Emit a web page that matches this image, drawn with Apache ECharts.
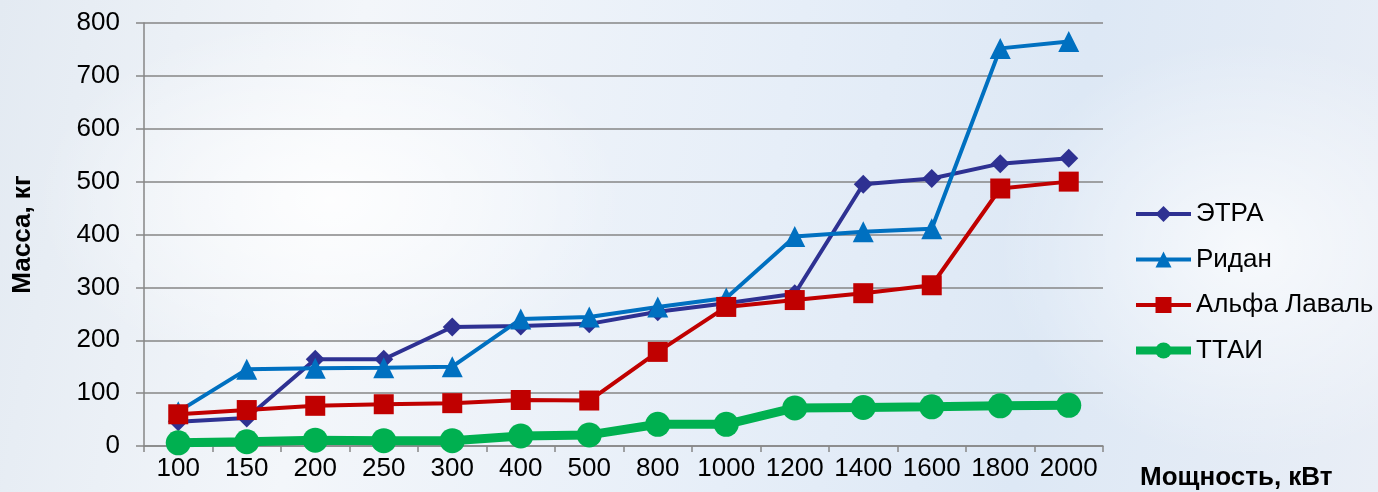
<!DOCTYPE html>
<html>
<head>
<meta charset="utf-8">
<script src="https://cdn.jsdelivr.net/npm/echarts@6/dist/echarts.min.js"></script>
<style>
    html, body { margin: 0; padding: 0; }
    #chart {
        width: 1378px; height: 492px;
        background:
            radial-gradient(ellipse 420px 260px at 330px 200px, rgba(255,255,255,0.85), rgba(255,255,255,0) 70%),
            radial-gradient(ellipse 360px 300px at 1250px 250px, rgba(255,255,255,0.7), rgba(255,255,255,0) 70%),
            linear-gradient(100deg, #e3eaf2 0%, #f3f6fa 25%, #e6eef8 55%, #dde8f5 75%, #e9eef6 100%);
    }
</style>
</head>
<body>
<div id="chart"></div>
<script>
var powers = ['100', '150', '200', '250', '300', '400', '500', '800', '1000', '1200', '1400', '1600', '1800', '2000'];
var etra = [46, 53, 164, 164, 225, 227, 231, 254, 270, 288, 495, 506, 534, 544];
var ridan = [65, 145, 147, 148, 150, 240, 244, 263, 280, 396, 405, 411, 752, 765];
var alfaLaval = [60, 68, 76, 79, 81, 87, 86, 178, 263, 276, 289, 304, 487, 500];
var ttai = [6, 8, 11, 10, 10, 19, 21, 41, 41, 72, 73, 74, 76, 77];
var massTicks = [0, 100, 200, 300, 400, 500, 600, 700, 800];

(function drawMass() {
    var chartDom = document.getElementById('chart');
    var myChart = echarts.init(chartDom);
    var option;
    var font = 'Liberation Sans, Arial, sans-serif';

    function lineSeries(name, data, color, symbol, size, width) {
        return {
            name: name,
            type: 'line',
            data: data,
            symbol: symbol,
            symbolSize: size,
            showAllSymbol: true,
            lineStyle: { color: color, width: width },
            itemStyle: { color: color },
            emphasis: { disabled: true }
        };
    }

    option = {
        animation: false,
        textStyle: { fontFamily: font },
        grid: {
            left: 144,
            right: 275,
            top: 23,
            bottom: 46
        },
        legend: {
            orient: 'vertical',
            left: 1132,
            top: 201,
            padding: 0,
            itemWidth: 55,
            itemHeight: 20,
            itemGap: 19.5,
            textStyle: { fontSize: 26, color: '#000', fontFamily: font },
            data: [
                { name: 'ЭТРА', lineStyle: { width: 4 } },
                { name: 'Ридан', lineStyle: { width: 4 } },
                { name: 'Альфа Лаваль', lineStyle: { width: 4 } },
                { name: 'ТТАИ', lineStyle: { width: 8 } }
            ]
        },
        xAxis: {
            type: 'category',
            data: powers,
            boundaryGap: true,
            name: 'Мощность, кВт',
            nameLocation: 'end',
            nameGap: 37,
            nameTextStyle: {
                fontSize: 26,
                fontWeight: 'bold',
                color: '#000',
                verticalAlign: 'top',
                padding: [19, 0, 0, 0]
            },
            axisLine: { lineStyle: { color: '#868686', width: 1.5 } },
            axisTick: { show: true, interval: 0, length: 6, lineStyle: { color: '#868686', width: 1.5 } },
            axisLabel: { interval: 0, fontSize: 26, color: '#000', margin: 10 },
            splitLine: { show: false }
        },
        yAxis: {
            type: 'value',
            min: massTicks[0],
            max: massTicks[massTicks.length - 1],
            interval: 100,
            name: 'Масса, кг',
            nameLocation: 'middle',
            nameGap: 108,
            nameTextStyle: { fontSize: 26, fontWeight: 'bold', color: '#000' },
            axisLine: { show: true, lineStyle: { color: '#868686', width: 1.5 } },
            axisTick: { show: true, length: 8, lineStyle: { color: '#868686', width: 1.5 } },
            axisLabel: { fontSize: 26, color: '#000', margin: 24 },
            splitLine: { lineStyle: { color: '#868686', width: 1.5 } }
        },
        series: [
            lineSeries('ЭТРА', etra, '#2e3192', 'diamond', 19, 4),
            lineSeries('Ридан', ridan, '#0070c0', 'triangle', 21, 4),
            lineSeries('Альфа Лаваль', alfaLaval, '#c00000', 'rect', 20, 4),
            lineSeries('ТТАИ', ttai, '#00b050', 'circle', 25, 9)
        ]
    };

    option && myChart.setOption(option);
})();
</script>
</body>
</html>
